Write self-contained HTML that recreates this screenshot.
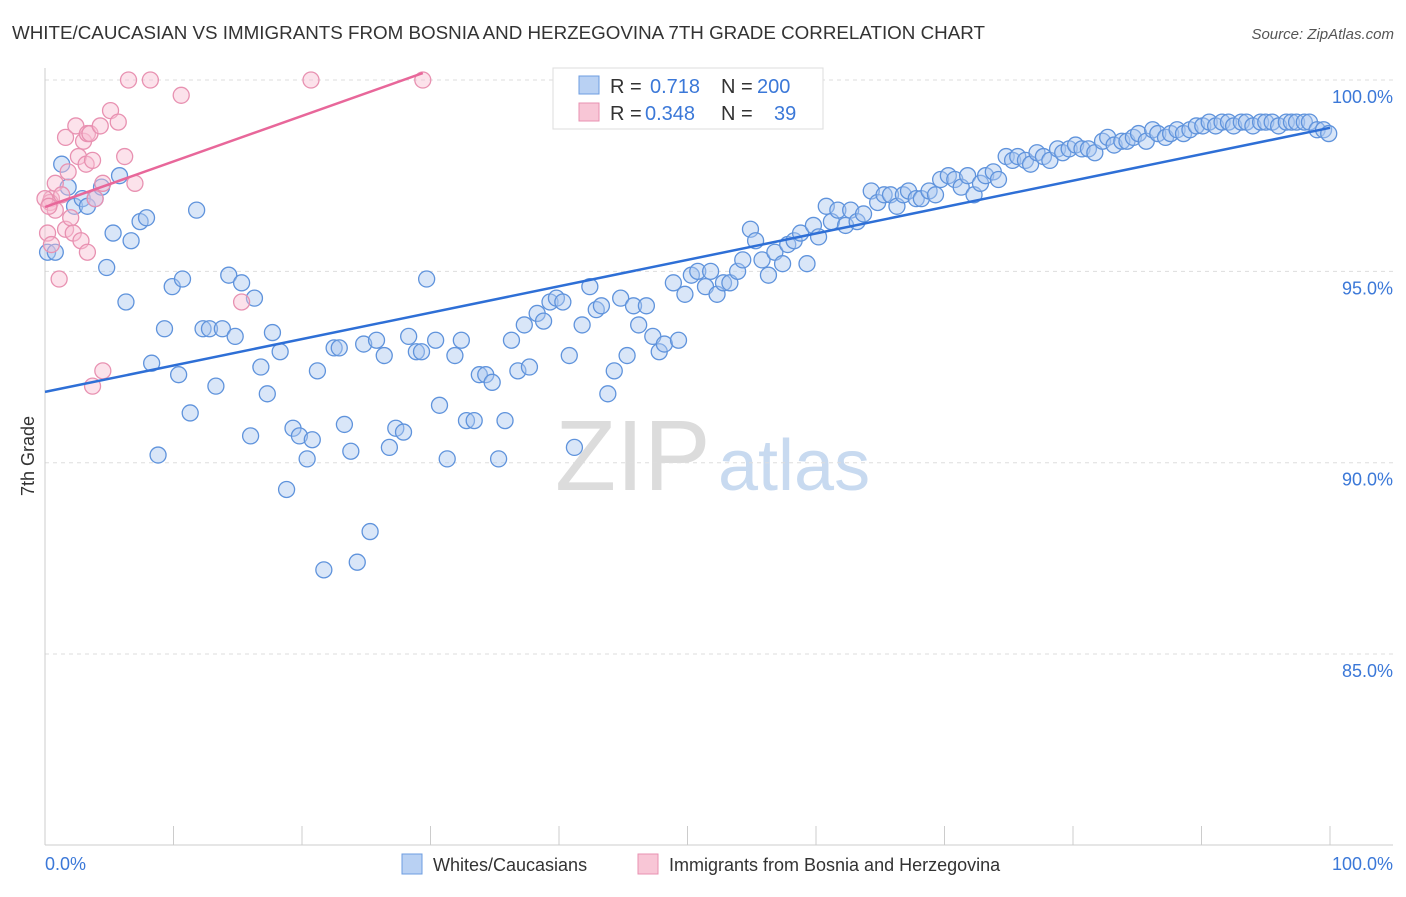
<!DOCTYPE html>
<html><head><meta charset="utf-8"><style>
body{margin:0;background:#fff;font-family:"Liberation Sans",sans-serif;}
svg text{font-family:"Liberation Sans",sans-serif;}
</style></head><body>
<svg id="chart" width="1406" height="892" xmlns="http://www.w3.org/2000/svg">
<text x="12" y="39" font-size="18.8" fill="#333">WHITE/CAUCASIAN VS IMMIGRANTS FROM BOSNIA AND HERZEGOVINA 7TH GRADE CORRELATION CHART</text>
<text x="1394" y="39" font-size="15" fill="#555" text-anchor="end" font-style="italic">Source: ZipAtlas.com</text>
<g>
<text x="555" y="490" font-size="100" fill="#dcdcdc" font-family="Liberation Serif">ZIP</text>
<text x="718" y="490" font-size="72" fill="#c8daf0">atlas</text>
</g>
<g id="grid"></g>
<g id="axes"></g>
<g id="points"></g>
<g id="lines"></g>
<text transform="translate(34,456) rotate(-90)" font-size="18" fill="#333" text-anchor="middle">7th Grade</text>
<g>
<rect x="553" y="68" width="270" height="61" fill="#fff" stroke="#ddd"/>
<rect x="579" y="76" width="20" height="18" fill="#b9d1f3" stroke="#6d9de0"/>
<rect x="579" y="103" width="20" height="18" fill="#f8c6d6" stroke="#e891b1"/>
<text x="610" y="93" font-size="20" fill="#333">R = </text><text x="650" y="93" font-size="20" fill="#3b78d8">0.718</text>
<text x="721" y="93" font-size="20" fill="#333">N = </text><text x="757" y="93" font-size="20" fill="#3b78d8">200</text>
<text x="610" y="120" font-size="20" fill="#333">R = </text><text x="645" y="120" font-size="20" fill="#3b78d8">0.348</text>
<text x="721" y="120" font-size="20" fill="#333">N = </text><text x="774" y="120" font-size="20" fill="#3b78d8">39</text>
</g>
<g>
<rect x="402" y="854" width="20" height="20" fill="#b9d1f3" stroke="#6d9de0"/>
<text x="433" y="871" font-size="18" fill="#333">Whites/Caucasians</text>
<rect x="638" y="854" width="20" height="20" fill="#f8c6d6" stroke="#e891b1"/>
<text x="669" y="871" font-size="18" fill="#333">Immigrants from Bosnia and Herzegovina</text>
</g>
</svg>
<script>
const yTicks=[100,95,90,85];
const yTickLabels=["100.0%","95.0%","90.0%","85.0%"];
const xTicks=[0,10,20,30,40,50,60,70,80,90,100];
const blueX=[0.2,0.8,1.3,1.8,2.3,2.9,3.3,3.9,4.4,5.8,5.3,4.8,6.7,7.4,7.9,6.3,8.3,8.8,9.3,9.9,10.4,10.7,11.3,11.8,12.3,12.8,13.3,13.8,14.3,14.8,15.3,16.0,16.3,16.8,17.3,17.7,18.3,18.8,19.3,19.8,20.4,20.8,21.2,21.7,22.5,22.9,23.3,23.8,24.3,24.8,25.3,25.8,26.4,26.8,27.3,27.9,28.3,28.9,29.3,29.7,30.4,30.7,31.3,31.9,32.4,32.8,33.4,33.8,34.3,34.8,35.3,35.8,36.3,36.8,37.3,37.7,38.3,38.8,39.3,39.8,40.3,40.8,41.2,41.8,42.4,42.9,43.3,43.8,44.3,44.8,45.3,45.8,46.2,46.8,47.3,47.8,48.2,48.9,49.3,49.8,50.3,50.8,51.4,51.8,52.3,52.8,53.3,53.9,54.3,54.9,55.3,55.8,56.3,56.8,57.4,57.8,58.3,58.8,59.3,59.8,60.2,60.8,61.2,61.7,62.3,62.7,63.2,63.7,64.3,64.8,65.3,65.8,66.3,66.8,67.2,67.8,68.2,68.8,69.3,69.7,70.3,70.8,71.3,71.8,72.3,72.8,73.2,73.8,74.2,74.8,75.3,75.7,76.3,76.7,77.2,77.7,78.2,78.8,79.2,79.7,80.2,80.7,81.2,81.7,82.3,82.7,83.2,83.8,84.2,84.7,85.1,85.7,86.2,86.6,87.2,87.6,88.1,88.6,89.1,89.6,90.1,90.6,91.1,91.6,92.1,92.5,93.1,93.5,94.0,94.6,95.0,95.5,96.0,96.6,97.0,97.4,98.0,98.4,99.0,99.5,99.9];
const blueY=[95.5,95.5,97.8,97.2,96.7,96.9,96.7,96.9,97.2,97.5,96.0,95.1,95.8,96.3,96.4,94.2,92.6,90.2,93.5,94.6,92.3,94.8,91.3,96.6,93.5,93.5,92.0,93.5,94.9,93.3,94.7,90.7,94.3,92.5,91.8,93.4,92.9,89.3,90.9,90.7,90.1,90.6,92.4,87.2,93.0,93.0,91.0,90.3,87.4,93.1,88.2,93.2,92.8,90.4,90.9,90.8,93.3,92.9,92.9,94.8,93.2,91.5,90.1,92.8,93.2,91.1,91.1,92.3,92.3,92.1,90.1,91.1,93.2,92.4,93.6,92.5,93.9,93.7,94.2,94.3,94.2,92.8,90.4,93.6,94.6,94.0,94.1,91.8,92.4,94.3,92.8,94.1,93.6,94.1,93.3,92.9,93.1,94.7,93.2,94.4,94.9,95.0,94.6,95.0,94.4,94.7,94.7,95.0,95.3,96.1,95.8,95.3,94.9,95.5,95.2,95.7,95.8,96.0,95.2,96.2,95.9,96.7,96.3,96.6,96.2,96.6,96.3,96.5,97.1,96.8,97.0,97.0,96.7,97.0,97.1,96.9,96.9,97.1,97.0,97.4,97.5,97.4,97.2,97.5,97.0,97.3,97.5,97.6,97.4,98.0,97.9,98.0,97.9,97.8,98.1,98.0,97.9,98.2,98.1,98.2,98.3,98.2,98.2,98.1,98.4,98.5,98.3,98.4,98.4,98.5,98.6,98.4,98.7,98.6,98.5,98.6,98.7,98.6,98.7,98.8,98.8,98.9,98.8,98.9,98.9,98.8,98.9,98.9,98.8,98.9,98.9,98.9,98.8,98.9,98.9,98.9,98.9,98.9,98.7,98.7,98.6];
const pinkX=[0.5,0.8,0.4,0.8,0.2,0.5,1.1,1.3,1.6,1.8,1.6,2.0,2.2,2.4,2.6,2.8,3.0,3.2,3.3,3.5,3.3,3.7,3.9,4.3,4.5,4.5,3.7,5.1,5.7,6.2,6.5,7.0,8.2,10.6,15.3,20.7,29.4,0.0,0.3];
const pinkY=[96.9,97.3,96.8,96.6,96.0,95.7,94.8,97.0,98.5,97.6,96.1,96.4,96.0,98.8,98.0,95.8,98.4,97.8,98.6,98.6,95.5,97.9,96.9,98.8,97.3,92.4,92.0,99.2,98.9,98.0,100.0,97.3,100.0,99.6,94.2,100.0,100.0,96.9,96.7];
const blueLine=[[0,91.85],[100,98.75]];
const pinkLine=[[0,96.68],[29.4,100.18]];

const NS="http://www.w3.org/2000/svg";
const sx=v=>45+v*12.85;
const sy=v=>80+(100-v)*38.27;
function mk(tag,attrs,parent){const e=document.createElementNS(NS,tag);for(const k in attrs)e.setAttribute(k,attrs[k]);parent.appendChild(e);return e;}
const grid=document.getElementById('grid'),axes=document.getElementById('axes'),pts=document.getElementById('points'),lines=document.getElementById('lines');
yTicks.forEach((t,i)=>{
 const l=mk('line',{x1:45,x2:1393,y1:sy(t),y2:sy(t),stroke:'#ddd','stroke-dasharray':'4,4'},grid);
 
 
 const tx=mk('text',{x:1393,y:sy(t)+23,'font-size':18,fill:'#3b78d8','text-anchor':'end'},axes);
 tx.textContent=yTickLabels[i];
 
 
});
const ax=mk('line',{x1:45,x2:45,y1:68,y2:845,stroke:'#ccc'},axes);


const bx=mk('line',{x1:45,x2:1393,y1:845,y2:845,stroke:'#ccc'},axes);


xTicks.forEach(t=>{
 const l=mk('line',{x1:sx(t),x2:sx(t),y1:826,y2:845,stroke:'#ccc'},axes);
 
 
});
const x0=mk('text',{x:45,y:870,'font-size':18,fill:'#3b78d8'},axes);x0.textContent='0.0%';


const x1=mk('text',{x:1393,y:870,'font-size':18,fill:'#3b78d8','text-anchor':'end'},axes);x1.textContent='100.0%';


blueX.forEach((v,i)=>{
 const c=mk('circle',{cx:sx(v),cy:sy(blueY[i]),r:8,fill:'rgba(170,200,240,0.45)',stroke:'#5f93dc','stroke-width':1.3},pts);
 
 
});
pinkX.forEach((v,i)=>{
 const c=mk('circle',{cx:sx(v),cy:sy(pinkY[i]),r:8,fill:'rgba(248,190,210,0.45)',stroke:'#e891b1','stroke-width':1.3},pts);
 
 
});
const bl=mk('line',{x1:sx(blueLine[0][0]),y1:sy(blueLine[0][1]),x2:sx(blueLine[1][0]),y2:sy(blueLine[1][1]),stroke:'#2e6fd6','stroke-width':2.5},lines);


const pl=mk('line',{x1:sx(pinkLine[0][0]),y1:sy(pinkLine[0][1]),x2:sx(pinkLine[1][0]),y2:sy(pinkLine[1][1]),stroke:'#e8679a','stroke-width':2.5},lines);


</script>
</body></html>
